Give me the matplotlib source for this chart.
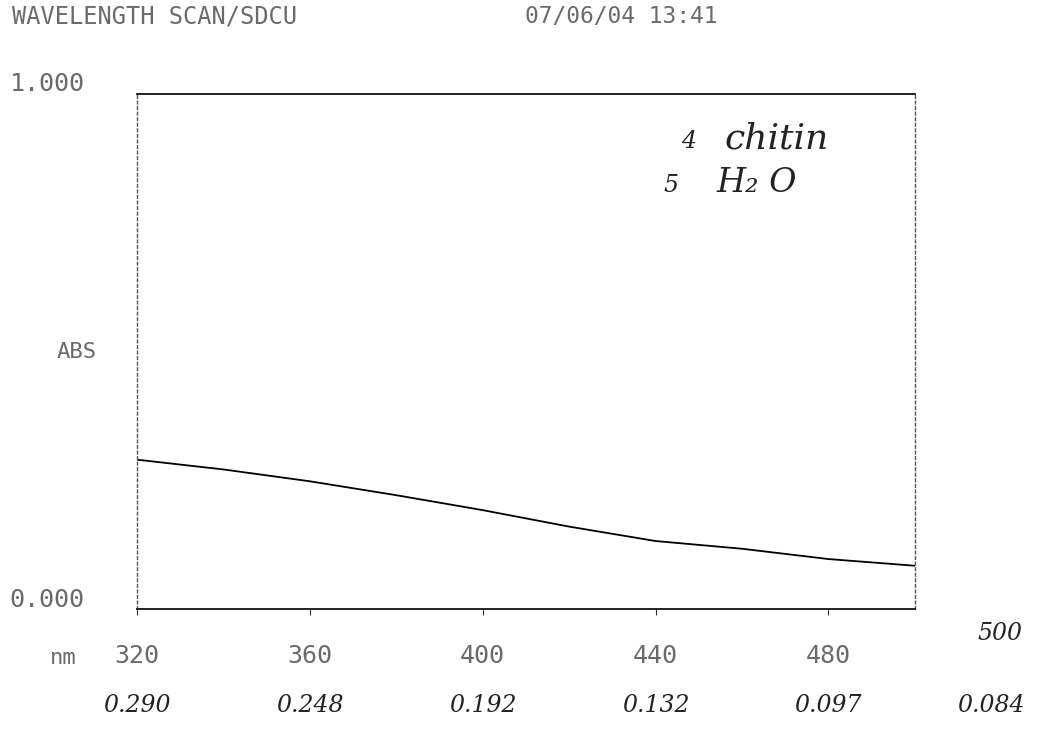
## Wavelength scan printout: absorbance vs wavelength (chitin sample)
import numpy as np
import matplotlib
matplotlib.use('Agg')
import matplotlib.pyplot as plt

# scan readings (nm, ABS)
wavelength = [320, 340, 360, 380, 400, 420, 440, 460, 480, 500]
absorbance = [0.290, 0.271, 0.248, 0.221, 0.192, 0.160, 0.132, 0.117, 0.097, 0.084]

# wavelengths with a hand-written reading under the axis
noted_nm = [320, 360, 400, 440, 480, 500]
tick_nm = [320, 360, 400, 440, 480]

header_left = 'WAVELENGTH SCAN/SDCU'
header_right = '07/06/04 13:41'
notes = [('4', 'chitin'), ('5', 'H\u2082 O')]

printer = dict(family='DejaVu Sans Mono', color='#6a6a6a')
hand = dict(family='DejaVu Serif', style='italic', color='#222222')

fig = plt.figure(figsize=(10.4, 7.54), dpi=100)
ax = fig.add_axes([0.1317, 0.1923, 0.748, 0.683])

ax.plot(wavelength, absorbance, color='black', linewidth=1.3)

ax.set_xlim(320, 500)
ax.set_ylim(0, 1.0)

# frame: solid top/bottom, dotted sides
for side in ['top', 'bottom']:
    ax.spines[side].set_linewidth(1.4)
    ax.spines[side].set_color('#222222')
for side in ['left', 'right']:
    ax.spines[side].set_linestyle((0, (2, 2)))
    ax.spines[side].set_linewidth(1.0)
    ax.spines[side].set_color('#555555')

ax.set_xticks(tick_nm)
ax.set_xticklabels([str(n) for n in tick_nm], fontsize=18, **printer)
ax.tick_params(axis='x', direction='out', length=4, width=0.8, pad=21, colors='#333333')
for lbl in ax.get_xticklabels():
    lbl.set_color('#6a6a6a')
ax.set_yticks([])

# y range labels and axis names
yt = ax.get_yaxis_transform()
ax.text(-0.067, 1.02, '1.000', transform=yt, ha='right', va='center', fontsize=18, **printer)
ax.text(-0.067, 0.017, '0.000', transform=yt, ha='right', va='center', fontsize=18, **printer)
ax.text(-0.077, 0.50, 'ABS', transform=ax.transAxes, ha='center', va='center', fontsize=16, **printer)
ax.text(-0.095, -0.095, 'nm', transform=ax.transAxes, ha='center', va='center', fontsize=16, **printer)

# printer header
fig.text(0.012, 0.978, header_left, ha='left', va='center', fontsize=17, **printer)
fig.text(0.505, 0.978, header_right, ha='left', va='center', fontsize=16.5, **printer)

# hand-written sample notes
ax.text(0.70, 0.895, notes[0][0], transform=ax.transAxes, fontsize=17, **hand)
ax.text(0.755, 0.895, notes[0][1], transform=ax.transAxes, fontsize=26, **hand)
ax.text(0.677, 0.81, notes[1][0], transform=ax.transAxes, fontsize=17, **hand)
ax.text(0.745, 0.81, notes[1][1], transform=ax.transAxes, fontsize=24, **hand)

# hand-written readings under each wavelength
lookup = dict(zip(wavelength, absorbance))
for nm in noted_nm:
    dx = 76 if nm == 500 else 0
    ax.annotate('{:.3f}'.format(lookup[nm]), xy=(nm, 0), xycoords=('data', 'axes fraction'),
                xytext=(dx, -96), textcoords='offset pixels', ha='center', va='center',
                fontsize=17, annotation_clip=False, **hand)
ax.annotate('500', xy=(500, 0), xycoords=('data', 'axes fraction'),
            xytext=(85, -24), textcoords='offset pixels', ha='center', va='center',
            fontsize=17, annotation_clip=False, **hand)

fig.savefig('out.png', dpi=100, facecolor='white')
